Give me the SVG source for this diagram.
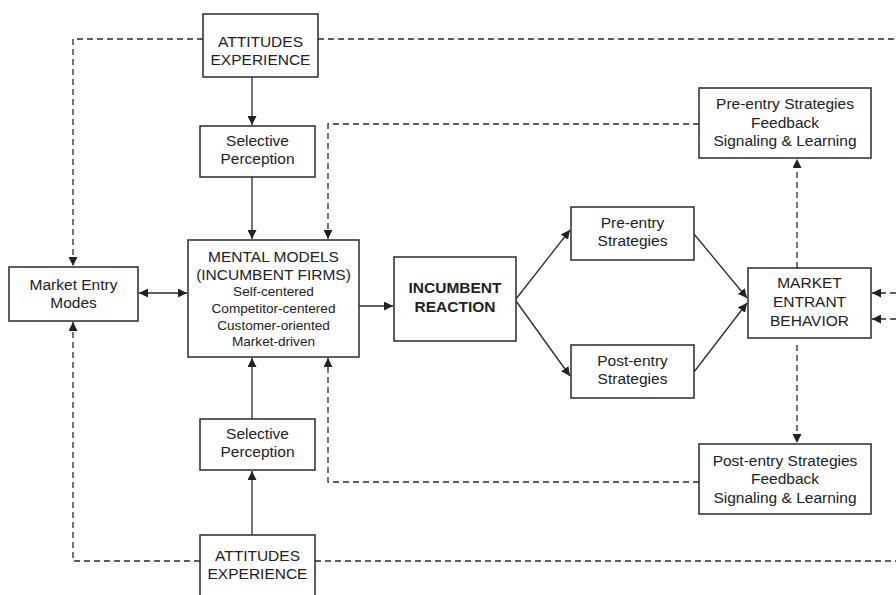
<svg xmlns="http://www.w3.org/2000/svg" width="896" height="595" viewBox="0 0 896 595">
<style>
.box{fill:#fff;stroke:#2a2a2a;stroke-width:1.5}
.t{font-family:"Liberation Sans",Arial,sans-serif;font-size:15.5px;fill:#222;text-anchor:middle}
.s{font-family:"Liberation Sans",Arial,sans-serif;font-size:13.6px;fill:#222;text-anchor:middle}
.b{font-weight:bold}
.ln{fill:none;stroke:#2a2a2a;stroke-width:1.3}
.d{fill:none;stroke:#2a2a2a;stroke-width:1.3;stroke-dasharray:6,4}
</style>
<defs>
<marker id="ah" viewBox="0 0 10 10" refX="10" refY="5" markerWidth="9" markerHeight="9" markerUnits="userSpaceOnUse" orient="auto-start-reverse">
<path d="M0,0 L10,5 L0,10 z" fill="#222"/>
</marker>
</defs>
<g id="connectors">
<path class="d" d="M203,39 H73 V266" marker-end="url(#ah)"/>
<path class="d" d="M318,39 H896"/>
<path class="d" d="M200,561 H73 V322" marker-end="url(#ah)"/>
<path class="d" d="M315,561 H896"/>
<path class="d" d="M699,124 H328 V239" marker-end="url(#ah)"/>
<path class="d" d="M699,482 H328 V358" marker-end="url(#ah)"/>
<path class="d" d="M797,268 V159" marker-end="url(#ah)"/>
<path class="d" d="M797,345 V443" marker-end="url(#ah)"/>
<path class="d" d="M896,293 H872" marker-end="url(#ah)"/>
<path class="d" d="M896,319 H872" marker-end="url(#ah)"/>
<path class="ln" d="M252,77 V125" marker-end="url(#ah)"/>
<path class="ln" d="M252,177 V239" marker-end="url(#ah)"/>
<path class="ln" d="M252,535 V471" marker-end="url(#ah)"/>
<path class="ln" d="M252,419 V358" marker-end="url(#ah)"/>
<path class="ln" d="M139,293 H187" marker-start="url(#ah)" marker-end="url(#ah)"/>
<path class="ln" d="M359,306 H393" marker-end="url(#ah)"/>
<path class="ln" d="M516,299 L570,230" marker-end="url(#ah)"/>
<path class="ln" d="M516,301 L570,376" marker-end="url(#ah)"/>
<path class="ln" d="M694,234 L747,298" marker-end="url(#ah)"/>
<path class="ln" d="M694,372 L747,303" marker-end="url(#ah)"/>
</g>
<g id="attitudes-top">
<rect class="box" x="203" y="14" width="115" height="63"/>
<text class="t" x="260.5" y="47">ATTITUDES</text>
<text class="t" x="260.5" y="65">EXPERIENCE</text>
</g>
<g id="selective-top">
<rect class="box" x="200" y="126" width="115" height="51"/>
<text class="t" x="257.5" y="146">Selective</text>
<text class="t" x="257.5" y="164">Perception</text>
</g>
<g id="mental-models">
<rect class="box" x="188" y="240" width="171" height="117"/>
<text class="t" x="273.5" y="262">MENTAL MODELS</text>
<text class="t" x="273.5" y="280">(INCUMBENT FIRMS)</text>
<text class="s" x="273.5" y="296">Self-centered</text>
<text class="s" x="273.5" y="313">Competitor-centered</text>
<text class="s" x="273.5" y="329.5">Customer-oriented</text>
<text class="s" x="273.5" y="346">Market-driven</text>
</g>
<g id="market-entry-modes">
<rect class="box" x="9" y="267" width="129" height="54"/>
<text class="t" x="73.5" y="290">Market Entry</text>
<text class="t" x="73.5" y="308">Modes</text>
</g>
<g id="incumbent-reaction">
<rect class="box" x="394" y="257" width="122" height="84"/>
<text class="t b" x="455" y="293">INCUMBENT</text>
<text class="t b" x="455" y="312">REACTION</text>
</g>
<g id="pre-entry">
<rect class="box" x="571" y="207" width="123" height="53"/>
<text class="t" x="632.5" y="228">Pre-entry</text>
<text class="t" x="632.5" y="246">Strategies</text>
</g>
<g id="post-entry">
<rect class="box" x="571" y="345" width="123" height="53"/>
<text class="t" x="632.5" y="366">Post-entry</text>
<text class="t" x="632.5" y="384">Strategies</text>
</g>
<g id="market-entrant-behavior">
<rect class="box" x="748" y="268" width="123" height="70"/>
<text class="t" x="809.5" y="288">MARKET</text>
<text class="t" x="809.5" y="307">ENTRANT</text>
<text class="t" x="809.5" y="326">BEHAVIOR</text>
</g>
<g id="pre-entry-feedback">
<rect class="box" x="699" y="88" width="172" height="70"/>
<text class="t" x="785" y="109">Pre-entry Strategies</text>
<text class="t" x="785" y="128">Feedback</text>
<text class="t" x="785" y="146">Signaling &amp; Learning</text>
</g>
<g id="post-entry-feedback">
<rect class="box" x="699" y="444" width="172" height="70"/>
<text class="t" x="785" y="466">Post-entry Strategies</text>
<text class="t" x="785" y="484">Feedback</text>
<text class="t" x="785" y="503">Signaling &amp; Learning</text>
</g>
<g id="selective-bottom">
<rect class="box" x="200" y="419" width="115" height="51"/>
<text class="t" x="257.5" y="439">Selective</text>
<text class="t" x="257.5" y="457">Perception</text>
</g>
<g id="attitudes-bottom">
<rect class="box" x="200" y="535" width="115" height="64"/>
<text class="t" x="257.5" y="561">ATTITUDES</text>
<text class="t" x="257.5" y="579">EXPERIENCE</text>
</g>
</svg>
